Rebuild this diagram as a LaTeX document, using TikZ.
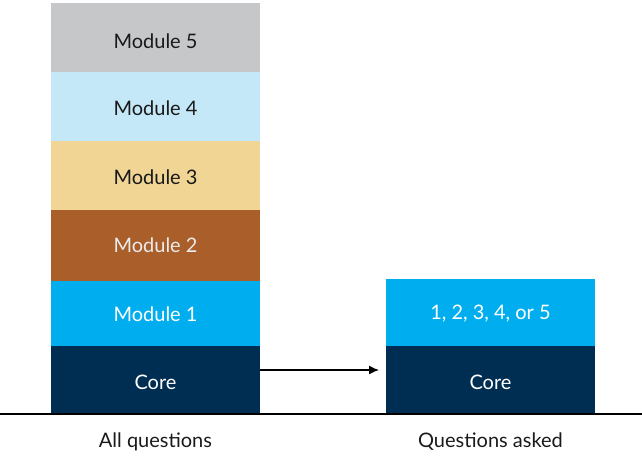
\documentclass[tikz,border=0pt]{standalone}
\usepackage{fontspec}
\setmainfont{Lato}
\usetikzlibrary{arrows.meta}
\definecolor{cM5}{HTML}{C6C7C9}
\definecolor{cM4}{HTML}{C5E8F8}
\definecolor{cM3}{HTML}{F0D595}
\definecolor{cM2}{HTML}{AA5E2A}
\definecolor{cM1}{HTML}{00AEEF}
\definecolor{cCore}{HTML}{002D52}
\definecolor{darktext}{HTML}{1A1A1A}
\begin{document}
\begin{tikzpicture}[x=1pt,y=-1pt,
  blk/.style={fill=#1, draw=none},
  lbl/.style={font=\fontsize{20}{24}\selectfont, text=#1, inner sep=0pt},
]
\useasboundingbox (0,0) rectangle (642,455);
% left column
\fill[blk=cM5] (51,3) rectangle (260,72);
\fill[blk=cM4] (51,72) rectangle (260,141);
\fill[blk=cM3] (51,141) rectangle (260,210);
\fill[blk=cM2] (51,210) rectangle (260,281);
\fill[blk=cM1] (51,281) rectangle (260,346);
\fill[blk=cCore] (51,346) rectangle (260,414);
\node[lbl=darktext] (m5) at (155.5,41) {Module 5};
\node[lbl=darktext] (m4) at (155.5,108) {Module 4};
\node[lbl=darktext] (m3) at (155.5,177) {Module 3};
\node[lbl=white!92!black] (m2) at (155.5,245) {Module 2};
\node[lbl=white] (m1) at (155.5,314) {Module 1};
\node[lbl=white] (c1) at (155.5,382) {Core};
% right column
\fill[blk=cM1] (386,279) rectangle (595,346);
\fill[blk=cCore] (386,346) rectangle (595,414);
\node[lbl=white] (any) at (490.5,314) {1, 2, 3, 4, or 5};
\node[lbl=white] (c2) at (490.5,382) {Core};
% arrow
\coordinate (a1) at (260,370);
\coordinate (a2) at (379,370);
\draw[line width=1.3pt, -{Latex[length=10pt,width=9pt]}] (a1) -- (a2);
% baseline
\coordinate (b1) at (0,414);
\coordinate (b2) at (642,414);
\draw[line width=1.8pt] (b1) -- (b2);
% captions
\node[lbl=darktext] (t1) at (155.5,442) {All questions};
\node[lbl=darktext] (t2) at (490.5,442) {Questions asked};
\end{tikzpicture}
\end{document}
